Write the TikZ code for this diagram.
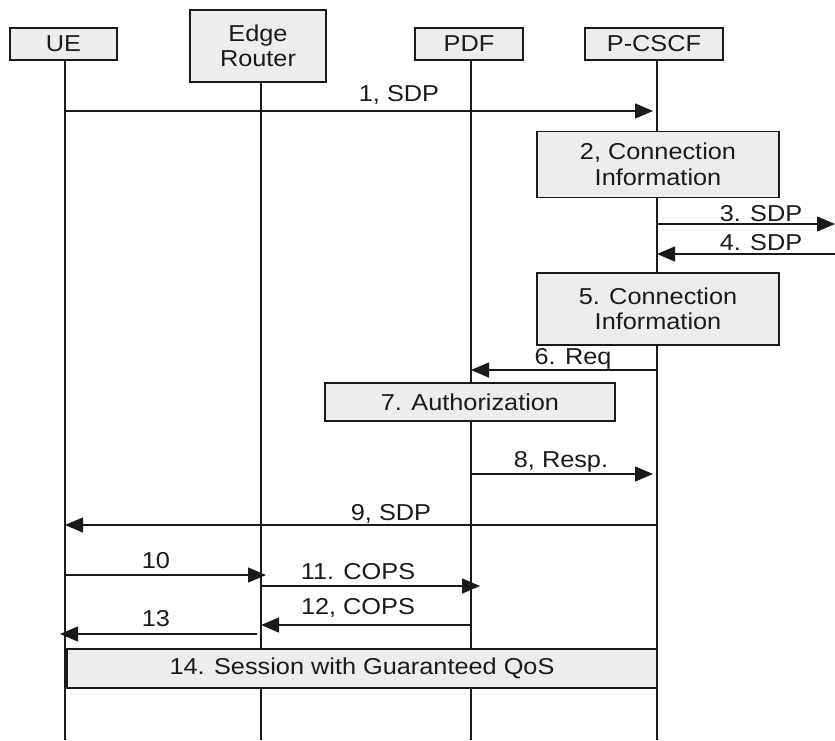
\documentclass[tikz,border=0pt]{standalone}
\usepackage{fontspec}
\setmainfont{Liberation Sans}[FakeStretch=1.1]
\usetikzlibrary{arrows.meta}
\definecolor{boxfill}{HTML}{EDEDED}
\definecolor{ink}{HTML}{1A1A1A}
\begin{document}
\begin{tikzpicture}[x=1pt,y=-1pt,
  every node/.style={font=\fontsize{23}{25.5}\selectfont, text=ink, inner sep=0pt},
  actor/.style={draw=ink, line width=1.9pt, fill=boxfill, align=center},
  stepbox/.style={draw=ink, line width=1.9pt, fill=boxfill, align=center},
  life/.style={draw=ink, line width=1.4pt},
  msg/.style={draw=ink, line width=1.4pt, -{Triangle[length=18pt,width=15pt]}},
  lbl/.style={anchor=base}]
\useasboundingbox (0,0) rectangle (835,740);

% participants
\node[actor, minimum width=107pt, minimum height=32pt] (UE) at (63.5,44) {UE};
\node[actor, minimum width=136pt, minimum height=72pt] (ER) at (258,46) {Edge\\Router};
\node[actor, minimum width=108pt, minimum height=32pt] (PDF) at (469,44) {PDF};
\node[actor, minimum width=138pt, minimum height=32pt] (PC) at (654,44) {P-CSCF};

% lifeline ends
\coordinate (UEend) at (65,740);
\coordinate (ERend) at (261,740);
\coordinate (PDFend) at (471,740);
\coordinate (PCend) at (657,740);
\draw[life] (UEend |- UE.south) -- (UEend);
\draw[life] (ERend |- ER.south) -- (ERend);
\draw[life] (PDFend |- PDF.south) -- (PDFend);
\draw[life] (PCend |- PC.south) -- (PCend);

% processing steps
\node[stepbox, minimum width=242pt, minimum height=66pt] (S2) at (658,164.5) {2, Connection\\Information};
\node[stepbox, minimum width=242pt, minimum height=72pt] (S5) at (658,309) {5. Connection\\Information};
\node[stepbox, minimum width=290pt, minimum height=38pt] (S7) at (470,402) {7. Authorization};
\node[stepbox, minimum width=590pt, minimum height=39pt] (S14) at (362,668.5) {14. Session with Guaranteed QoS};

% message end points
\coordinate (m1a) at (65,111);   \coordinate (m1b) at (653,111);
\coordinate (m3a) at (657,224);  \coordinate (m3b) at (835,224);
\coordinate (m4a) at (835,254);  \coordinate (m4b) at (657,254);
\coordinate (m6a) at (657,370);  \coordinate (m6b) at (471,370);
\coordinate (m8a) at (471,474);  \coordinate (m8b) at (653,474);
\coordinate (m9a) at (657,525);  \coordinate (m9b) at (65,525);
\coordinate (m10a) at (65,575);  \coordinate (m10b) at (266,575);
\coordinate (m11a) at (261,586); \coordinate (m11b) at (480,586);
\coordinate (m12a) at (471,625); \coordinate (m12b) at (261,625);
\coordinate (m13a) at (257,634); \coordinate (m13b) at (60,634);

% messages
\draw[msg] (m1a) -- (m1b);
\node[lbl] (L1) at (399,101) {1, SDP};
\draw[msg] (m3a) -- (m3b);
\node[lbl] (L3) at (761,221) {3. SDP};
\draw[msg] (m4a) -- (m4b);
\node[lbl] (L4) at (761,250) {4. SDP};
\draw[msg] (m6a) -- (m6b);
\node[lbl] (L6) at (573,364) {6. Req};
\draw[msg] (m8a) -- (m8b);
\node[lbl] (L8) at (561,467) {8, Resp.};
\draw[msg] (m9a) -- (m9b);
\node[lbl] (L9) at (391,520) {9, SDP};
\draw[msg] (m10a) -- (m10b);
\node[lbl] (L10) at (156,568) {10};
\draw[msg] (m11a) -- (m11b);
\node[lbl] (L11) at (358,579) {11. COPS};
\draw[msg] (m12a) -- (m12b);
\node[lbl] (L12) at (358,614) {12, COPS};
\draw[msg] (m13a) -- (m13b);
\node[lbl] (L13) at (156,626) {13};
\end{tikzpicture}
\end{document}
